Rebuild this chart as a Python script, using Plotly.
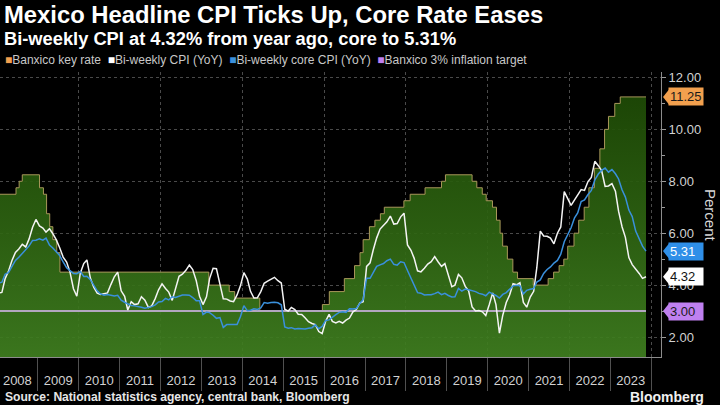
import plotly.graph_objects as go

# ---------------- data ----------------
years = list(range(2008, 2024))

cpi_by_year = {
    2008: [3.70, 3.72, 4.25, 4.55, 4.95, 5.26, 5.39, 5.57, 5.47, 5.78, 6.23, 6.53],
    2009: [6.28, 6.20, 6.04, 6.17, 5.98, 5.74, 5.44, 5.08, 4.89, 4.50, 3.86, 3.57],
    2010: [4.46, 4.83, 4.97, 4.27, 3.92, 3.69, 3.64, 3.68, 3.70, 4.02, 4.32, 4.50],
    2011: [3.78, 3.57, 3.04, 3.36, 3.25, 3.28, 3.55, 3.42, 3.14, 3.20, 3.48, 3.82],
    2012: [4.05, 3.87, 3.73, 3.41, 3.85, 4.34, 4.42, 4.57, 4.77, 4.60, 4.18, 3.57],
    2013: [3.25, 3.55, 4.25, 4.65, 4.63, 4.09, 3.47, 3.46, 3.39, 3.36, 3.62, 3.97],
    2014: [4.48, 4.23, 3.76, 3.50, 3.51, 3.75, 4.07, 4.15, 4.22, 4.30, 4.17, 4.08],
    2015: [3.07, 3.00, 3.14, 3.06, 2.88, 2.87, 2.74, 2.59, 2.52, 2.48, 2.21, 2.13],
    2016: [2.61, 2.87, 2.60, 2.54, 2.60, 2.54, 2.65, 2.73, 2.97, 3.06, 3.31, 3.36],
    2017: [4.72, 4.86, 5.35, 5.82, 6.16, 6.31, 6.44, 6.66, 6.35, 6.37, 6.63, 6.77],
    2018: [5.55, 5.34, 5.04, 4.55, 4.51, 4.65, 4.81, 4.90, 5.10, 4.90, 4.72, 4.83],
    2019: [4.37, 3.94, 4.00, 4.41, 4.28, 3.95, 3.78, 3.16, 3.00, 3.02, 2.97, 2.83],
    2020: [3.24, 3.70, 3.25, 2.15, 2.84, 3.33, 3.62, 4.05, 4.01, 4.09, 3.33, 3.15],
    2021: [3.54, 3.76, 4.67, 6.08, 5.89, 5.88, 5.81, 5.59, 6.00, 6.24, 7.60, 7.36],
    2022: [7.07, 7.28, 7.45, 7.68, 7.65, 7.99, 8.15, 8.77, 8.60, 8.41, 7.80, 7.82],
    2023: [7.91, 7.62, 6.85, 6.25, 5.84, 5.06, 4.79, 4.64, 4.45, 4.26, 4.32],
}

core_by_year = {
    2008: [4.07, 4.11, 4.42, 4.49, 4.72, 4.95, 5.07, 5.22, 5.39, 5.51, 5.72, 5.73],
    2009: [5.78, 5.73, 5.81, 5.54, 5.43, 5.30, 5.14, 4.89, 4.67, 4.56, 4.45, 4.44],
    2010: [4.52, 4.33, 4.34, 4.21, 3.98, 3.78, 3.66, 3.61, 3.64, 3.60, 3.58, 3.61],
    2011: [3.42, 3.34, 3.28, 3.21, 3.20, 3.18, 3.15, 3.11, 3.13, 3.17, 3.24, 3.35],
    2012: [3.37, 3.49, 3.43, 3.55, 3.52, 3.57, 3.62, 3.62, 3.61, 3.52, 3.40, 3.40],
    2013: [2.87, 2.96, 2.94, 2.84, 2.72, 2.75, 2.37, 2.48, 2.47, 2.48, 2.48, 2.78],
    2014: [3.21, 3.01, 3.03, 3.09, 3.06, 3.12, 3.33, 3.30, 3.33, 3.34, 3.32, 3.24],
    2015: [2.39, 2.34, 2.36, 2.31, 2.33, 2.33, 2.31, 2.34, 2.36, 2.47, 2.32, 2.41],
    2016: [2.64, 2.66, 2.77, 2.86, 2.95, 2.97, 2.95, 3.09, 3.08, 3.10, 3.29, 3.44],
    2017: [4.26, 4.26, 4.48, 4.72, 4.78, 4.83, 4.94, 5.00, 4.80, 4.77, 4.90, 4.87],
    2018: [4.56, 4.27, 4.02, 3.71, 3.69, 3.62, 3.63, 3.63, 3.67, 3.73, 3.63, 3.68],
    2019: [3.60, 3.54, 3.55, 3.87, 3.77, 3.85, 3.82, 3.78, 3.75, 3.68, 3.65, 3.59],
    2020: [3.73, 3.66, 3.60, 3.50, 3.64, 3.71, 3.85, 3.97, 3.99, 3.98, 3.66, 3.80],
    2021: [3.84, 3.87, 4.12, 4.20, 4.45, 4.60, 4.70, 4.85, 4.95, 5.19, 5.67, 5.94],
    2022: [6.21, 6.59, 6.78, 7.22, 7.28, 7.49, 7.65, 8.05, 8.28, 8.42, 8.51, 8.35],
    2023: [8.45, 8.29, 8.09, 7.67, 7.39, 6.89, 6.64, 6.08, 5.76, 5.50, 5.31],
}

rate_dates = [
    "2008-01-01", "2008-06-20", "2008-07-18", "2008-08-15", "2009-01-16", "2009-02-20",
    "2009-03-20", "2009-04-17", "2009-05-15", "2009-06-19", "2009-07-17", "2013-03-08",
    "2013-09-06", "2013-10-25", "2014-06-06", "2015-12-17", "2016-02-17", "2016-06-30",
    "2016-09-29", "2016-11-17", "2016-12-15", "2017-02-09", "2017-03-30", "2017-05-18",
    "2017-06-22", "2017-12-14", "2018-02-08", "2018-06-21", "2018-11-15", "2018-12-20",
    "2019-08-15", "2019-09-26", "2019-11-14", "2019-12-19", "2020-02-13", "2020-03-20",
    "2020-04-21", "2020-05-14", "2020-06-25", "2020-08-13", "2020-09-24", "2021-02-11",
    "2021-06-24", "2021-08-12", "2021-09-30", "2021-11-11", "2021-12-16", "2022-02-10",
    "2022-03-24", "2022-05-12", "2022-06-23", "2022-08-11", "2022-09-29", "2022-11-10",
    "2022-12-15", "2023-02-09", "2023-03-30", "2023-11-15",
]
rate_values = [
    7.50, 7.75, 8.00, 8.25, 7.75, 7.50,
    6.75, 6.25, 5.75, 5.25, 4.50, 4.00,
    3.75, 3.50, 3.00, 3.25, 3.75, 4.25,
    4.75, 5.25, 5.75, 6.25, 6.50, 6.75,
    7.00, 7.25, 7.50, 7.75, 8.00, 8.25,
    8.00, 7.75, 7.50, 7.25, 7.00, 6.50,
    6.00, 5.50, 5.00, 4.50, 4.25, 4.00,
    4.25, 4.50, 4.75, 5.00, 5.50, 6.00,
    6.50, 7.00, 7.75, 8.50, 9.25, 10.00,
    10.50, 11.00, 11.25, 11.25,
]
inflation_target = 3.0

# ---------------- build series ----------------
cpi_dates, cpi_values, core_values = [], [], []
for yr in years:
    for m, (c, k) in enumerate(zip(cpi_by_year[yr], core_by_year[yr]), start=1):
        cpi_dates.append(f"{yr}-{m:02d}-15")
        cpi_values.append(c)
        core_values.append(k)

ORANGE = "#f2a04e"
WHITE = "#f4f4f4"
BLUE = "#3a90dc"
PURPLE = "#bf80f0"
FONT = "Liberation Sans"

fig = go.Figure()

fig.add_trace(go.Scatter(
    x=rate_dates, y=rate_values, mode="lines", line=dict(color="#a8975a", width=1, shape="hv"),
    fill="tozeroy",
    fillgradient=dict(type="vertical", start=1.2, stop=11.3,
                      colorscale=[[0, "rgba(64,128,32,0.92)"], [0.5, "rgba(46,100,18,0.92)"],
                                  [1, "rgba(30,74,6,0.94)"]]),
    showlegend=False, hoverinfo="skip"))

fig.add_trace(go.Scatter(
    x=[cpi_dates[0], cpi_dates[-1]], y=[inflation_target, inflation_target], mode="lines",
    line=dict(color="#b2a6bf", width=2), showlegend=False))

fig.add_trace(go.Scatter(x=cpi_dates, y=cpi_values, mode="lines",
                         line=dict(color=WHITE, width=1.5), showlegend=False))
fig.add_trace(go.Scatter(x=cpi_dates, y=core_values, mode="lines",
                         line=dict(color=BLUE, width=1.5), showlegend=False))

x_range = ["2008-01-29", "2024-03-28"]
# invisible trace on the labelled year axis
fig.add_trace(go.Scatter(x=x_range, y=[None, None], xaxis="x2", mode="lines", showlegend=False))

L, R, T, B = 0, 59, 72, 48
W, H = 720, 405
PW, PH = W - L - R, H - T - B

def py(px):
    return (H - B - px) / PH

def px_x(px):
    return (px - L) / PW

fig.update_layout(
    width=W, height=H, margin=dict(l=L, r=R, t=T, b=B),
    paper_bgcolor="black", plot_bgcolor="black",
    font=dict(family=FONT, color="#d0d0d0"),
    showlegend=False,
    xaxis=dict(type="date", range=x_range, showgrid=True, gridcolor="#4a4a4a", griddash="dot",
               gridwidth=1, dtick="M24", tick0="2010-01-01", showticklabels=False, ticks="",
               zeroline=False, showline=False),
    xaxis2=dict(type="date", range=x_range, overlaying="x", anchor="y", side="bottom",
                showgrid=False, dtick="M12", tick0="2008-01-01", ticklabelmode="period",
                tickformat="%Y", ticks="outside", ticklen=33, tickcolor="#505050", tickwidth=1,
                ticklabelstandoff=-22, showline=True, linecolor="#8c8c8c", linewidth=1,
                tickfont=dict(size=13, color="#d2d2d2", family=FONT), zeroline=False),
    yaxis=dict(side="right", range=[1.23, 12.21], dtick=2, tick0=0, tickformat=".2f",
               showgrid=True, gridcolor="#4a4a4a", griddash="dot", gridwidth=1,
               ticks="outside", ticklen=4, tickcolor="#9a9a9a", showline=True,
               linecolor="#8c8c8c", linewidth=1, zeroline=False,
               tickfont=dict(size=13, color="#d2d2d2", family=FONT),
               minor=dict(dtick=1, ticks="outside", ticklen=3, tickcolor="#9a9a9a", showgrid=False)),
)

ann = []
ann.append(dict(text="<b>Mexico Headline CPI Ticks Up, Core Rate Eases</b>", x=px_x(2), y=py(14.5),
                xref="paper", yref="paper", xanchor="left", yanchor="middle", showarrow=False,
                font=dict(size=23.8, color="white", family=FONT)))
ann.append(dict(text="<b>Bi-weekly CPI at 4.32% from year ago, core to 5.31%</b>", x=px_x(2), y=py(38.5),
                xref="paper", yref="paper", xanchor="left", yanchor="middle", showarrow=False,
                font=dict(size=18.3, color="white", family=FONT)))
legend_items = [(ORANGE, "Banxico key rate"), ("#ffffff", "Bi-weekly CPI (YoY)"),
                (BLUE, "Bi-weekly core CPI (YoY)"), (PURPLE, "Banxico 3% inflation target")]
legend_text = "  ".join(f"<span style='color:{c}'>■</span>{t}" for c, t in legend_items)
ann.append(dict(text=legend_text, x=px_x(3), y=py(60), xref="paper", yref="paper",
                xanchor="left", yanchor="middle", showarrow=False,
                font=dict(size=12, color="#c8c8c8", family=FONT)))
ann.append(dict(text="<b>Source: National statistics agency, central bank, Bloomberg</b>",
                x=px_x(3), y=py(397), xref="paper", yref="paper", xanchor="left", yanchor="middle",
                showarrow=False, font=dict(size=12.1, color="#e6e6e6", family=FONT)))
ann.append(dict(text="<b>Bloomberg</b>", x=px_x(706), y=py(397), xref="paper", yref="paper",
                xanchor="right", yanchor="middle", showarrow=False,
                font=dict(size=14, color="#f0f0f0", family=FONT)))
ann.append(dict(text="Percent", x=px_x(711), y=py(215), xref="paper", yref="paper",
                xanchor="center", yanchor="middle", showarrow=False, textangle=90,
                font=dict(size=15, color="#d8d8d8", family=FONT)))

tags = [(rate_values[-1], ORANGE, "#1a1a1a"), (core_values[-1], "#2f8fe8", "#ffffff"),
        (cpi_values[-1], "#ffffff", "#111111"), (inflation_target, PURPLE, "#1a1a1a")]
shapes = []
unit_px = PH / (12.21 - 1.23)
for val, bg, fg in tags:
    ann.append(dict(text=f"{val:.2f}", x=px_x(668), y=val, xref="paper", yref="y",
                    xanchor="left", yanchor="middle", showarrow=False, bgcolor=bg,
                    borderpad=1, width=32, align="left",
                    font=dict(size=13, color=fg, family=FONT)))
    half = 7.5 / unit_px
    shapes.append(dict(type="path", xref="paper", yref="y",
                       path=f"M {px_x(663)},{val} L {px_x(669)},{val + half} L {px_x(669)},{val - half} Z",
                       fillcolor=bg, line=dict(width=0), layer="above"))

fig.update_layout(annotations=ann, shapes=shapes)

fig.write_html("out.html")
